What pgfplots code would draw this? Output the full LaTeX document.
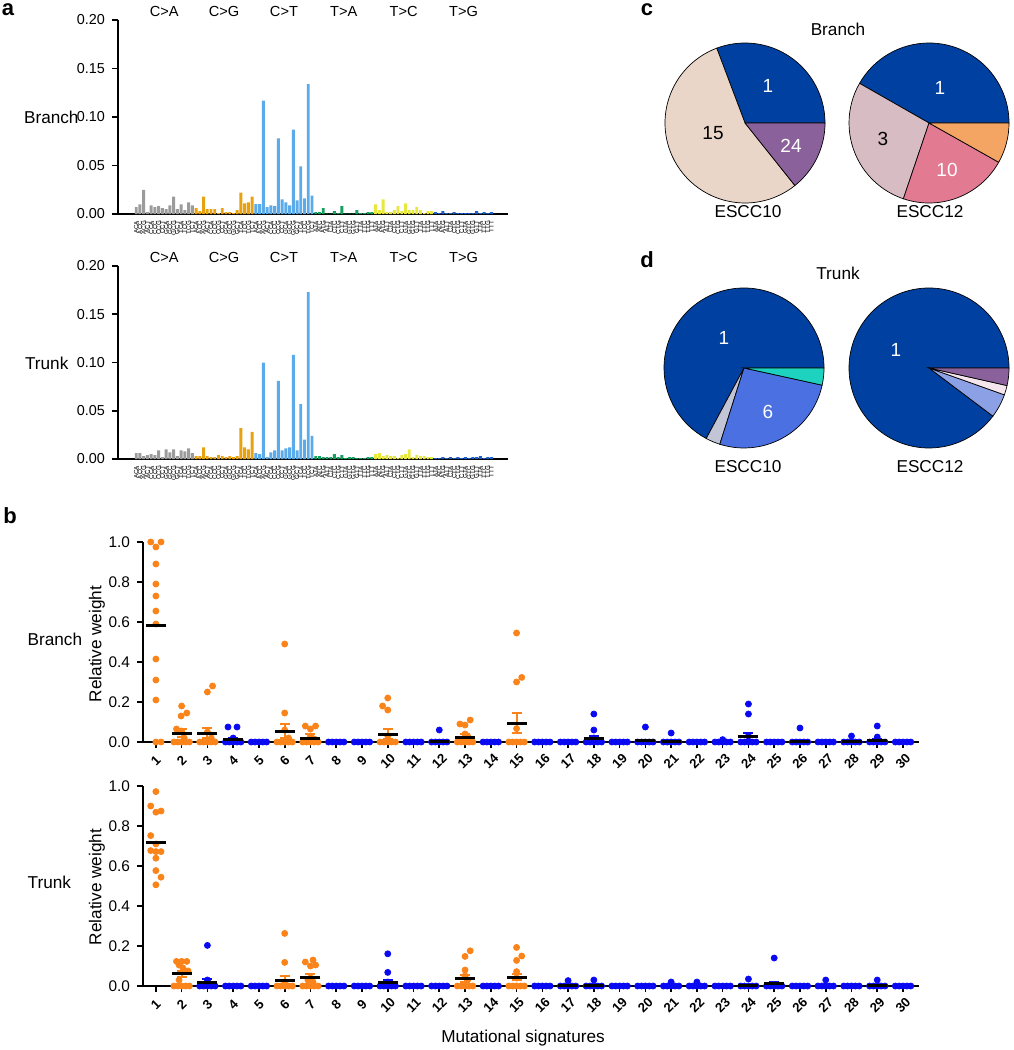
\documentclass[border=0pt]{standalone}
\usepackage{pgfplots}
\pgfplotsset{compat=1.18}
\usepackage{fontspec}
\setmainfont{Liberation Sans}
\definecolor{cgray}{HTML}{9B9B9B}
\definecolor{corange}{HTML}{E9A20F}
\definecolor{clblue}{HTML}{5BABEA}
\definecolor{cgreen}{HTML}{16A060}
\definecolor{cyellow}{HTML}{E8E83A}
\definecolor{cblue}{HTML}{1C5FC9}
\definecolor{dorange}{HTML}{FA831A}
\definecolor{dblue}{HTML}{0A0AF2}
\definecolor{pblue}{HTML}{0040A0}
\definecolor{pbeige}{HTML}{EAD5C9}
\definecolor{ppurple}{HTML}{8A619B}
\definecolor{pmauve}{HTML}{D8BCC3}
\definecolor{ppink}{HTML}{E27A92}
\definecolor{porange}{HTML}{F4A463}
\definecolor{pgrayb}{HTML}{C2C5D6}
\definecolor{pmblue}{HTML}{4A70E2}
\definecolor{pteal}{HTML}{1ED2C0}
\definecolor{plblue}{HTML}{8CA0E6}
\definecolor{pwhite}{HTML}{F5E6EE}
\newcommand\slice[6]{\filldraw[fill=#6, draw=black, line width=0.35pt] (axis cs:#1,#2) -- +(#4:#3) arc[start angle=#4, end angle=#5, radius=#3] -- cycle;}
\pgfplotsset{
 ctx/.style={xticklabels={ACA,ACC,ACG,ACT,CCA,CCC,CCG,CCT,GCA,GCC,GCG,GCT,TCA,TCC,TCG,TCT,
  ACA,ACC,ACG,ACT,CCA,CCC,CCG,CCT,GCA,GCC,GCG,GCT,TCA,TCC,TCG,TCT,
  ACA,ACC,ACG,ACT,CCA,CCC,CCG,CCT,GCA,GCC,GCG,GCT,TCA,TCC,TCG,TCT,
  ATA,ATC,ATG,ATT,CTA,CTC,CTG,CTT,GTA,GTC,GTG,GTT,TTA,TTC,TTG,TTT,
  ATA,ATC,ATG,ATT,CTA,CTC,CTG,CTT,GTA,GTC,GTG,GTT,TTA,TTC,TTG,TTT,
  ATA,ATC,ATG,ATT,CTA,CTC,CTG,CTT,GTA,GTC,GTG,GTT,TTA,TTC,TTG,TTT}},
 baraxis/.style={
  scale only axis, width=195pt, anchor=south west,
  xmin=-3.87, xmax=100.4, ymin=0, ymax=0.2,
  axis x line=bottom, axis y line=left, axis line style={-, line width=0.9pt},
  xtick={1,...,96}, ctx,
  x tick label style={rotate=90, anchor=east, font=\fontsize{3.1}{3.1}\selectfont, inner sep=0.3pt},
  x tick style={draw=none},
  ytick={0,0.05,0.1,0.15,0.2},
  y tick label style={font=\fontsize{7.2}{8}\selectfont, /pgf/number format/.cd, fixed, fixed zerofill, precision=2, assume math mode=true},
  y tick style={line width=0.8pt, black}, tick align=outside, major tick length=3pt,
  every axis plot/.append style={ybar, bar width=0.78, bar shift=0pt, draw=none},
  clip=false},
 sigaxis/.style={
  scale only axis, width=388pt, height=100pt, anchor=south west,
  xmin=0.5, xmax=30.62, ymin=0, ymax=1,
  axis x line=bottom, axis y line=left, axis line style={-, line width=0.9pt},
  xtick={1,...,30}, ytick={0,0.2,0.4,0.6,0.8,1},
  tick align=outside, major tick length=3pt, tick style={line width=0.8pt, black},
  y tick label style={font=\fontsize{7.7}{8}\selectfont, /pgf/number format/.cd, fixed, fixed zerofill, precision=1, assume math mode=true},
  x tick label style={anchor=center, yshift=-6.5pt, rotate=45, inner sep=0pt, font=\bfseries\fontsize{6.6}{7}\selectfont, /pgf/number format/assume math mode=true},
  clip=false},
 dots/.style={only marks, mark=*, mark size=1.5pt, color=#1},
 means/.style={only marks, mark=-, mark size=5pt, mark options={black, line width=1.5pt},
  error bars/.cd, y dir=both, y explicit,
  error bar style={#1, line width=1pt},
  error mark options={#1, line width=1pt, mark size=2.5pt, rotate=90}}
}
\begin{document}
\begin{tikzpicture}
\useasboundingbox (0,0) rectangle (506.5pt,-525pt);
% ---------- panel a, Branch
\begin{axis}[baraxis, at={(59pt,-107pt)}, height=97pt]
\addplot[fill=cgray] coordinates {(1,0.007)(2,0.010)(3,0.025)(4,0.002)(5,0.009)(6,0.007)(7,0.008)(8,0.006)(9,0.005)(10,0.009)(11,0.018)(12,0.005)(13,0.010)(14,0.004)(15,0.012)(16,0.009)};
\addplot[fill=corange] coordinates {(17,0.006)(18,0.003)(19,0.018)(20,0.005)(21,0.005)(22,0.005)(23,0.001)(24,0.006)(25,0.002)(26,0.002)(27,0.001)(28,0.004)(29,0.022)(30,0.011)(31,0.012)(32,0.018)};
\addplot[fill=clblue] coordinates {(33,0.0103)(34,0.0103)(35,0.117)(36,0.007)(37,0.009)(38,0.008)(39,0.078)(40,0.015)(41,0.012)(42,0.009)(43,0.087)(44,0.014)(45,0.049)(46,0.016)(47,0.134)(48,0.019)};
\addplot[fill=cgreen] coordinates {(49,0.002)(50,0.002)(51,0.006)(52,0.0005)(53,0.0005)(54,0.003)(55,0.001)(56,0.008)(57,0.0005)(58,0.0005)(59,0.0005)(60,0.004)(61,0.001)(62,0.001)(63,0.002)(64,0.002)};
\addplot[fill=cyellow] coordinates {(65,0.010)(66,0.004)(67,0.015)(68,0.002)(69,0.002)(70,0.004)(71,0.008)(72,0.003)(73,0.011)(74,0.004)(75,0.004)(76,0.007)(77,0.004)(78,0.001)(79,0.003)(80,0.003)};
\addplot[fill=cblue] coordinates {(81,0.002)(82,0.001)(83,0.003)(84,0.001)(85,0.001)(86,0.002)(87,0.001)(88,0.001)(89,0.001)(90,0.001)(91,0.001)(92,0.003)(93,0.001)(94,0.002)(95,0.001)(96,0.002)};
\node[font=\fontsize{7.3}{8}\selectfont] at (axis cs:8.5,0.2093) {C>A};
\node[font=\fontsize{7.3}{8}\selectfont] at (axis cs:24.5,0.2093) {C>G};
\node[font=\fontsize{7.3}{8}\selectfont] at (axis cs:40.5,0.2093) {C>T};
\node[font=\fontsize{7.3}{8}\selectfont] at (axis cs:56.5,0.2093) {T>A};
\node[font=\fontsize{7.3}{8}\selectfont] at (axis cs:72.5,0.2093) {T>C};
\node[font=\fontsize{7.3}{8}\selectfont] at (axis cs:88.5,0.2093) {T>G};
\end{axis}
% ---------- panel a, Trunk
\begin{axis}[baraxis, at={(59pt,-229.5pt)}, height=96.5pt]
\addplot[fill=cgray] coordinates {(1,0.006)(2,0.006)(3,0.003)(4,0.004)(5,0.005)(6,0.004)(7,0.009)(8,0.002)(9,0.010)(10,0.007)(11,0.010)(12,0.003)(13,0.009)(14,0.008)(15,0.011)(16,0.006)};
\addplot[fill=corange] coordinates {(17,0.003)(18,0.003)(19,0.012)(20,0.003)(21,0.002)(22,0.002)(23,0.004)(24,0.003)(25,0.002)(26,0.003)(27,0.002)(28,0.003)(29,0.032)(30,0.012)(31,0.010)(32,0.028)};
\addplot[fill=clblue] coordinates {(33,0.006)(34,0.005)(35,0.100)(36,0.002)(37,0.007)(38,0.009)(39,0.081)(40,0.009)(41,0.011)(42,0.012)(43,0.108)(44,0.009)(45,0.057)(46,0.020)(47,0.173)(48,0.024)};
\addplot[fill=cgreen] coordinates {(49,0.003)(50,0.003)(51,0.002)(52,0.002)(53,0.002)(54,0.005)(55,0.002)(56,0.004)(57,0.001)(58,0.002)(59,0.002)(60,0.001)(61,0.001)(62,0.001)(63,0.002)(64,0.002)};
\addplot[fill=cyellow] coordinates {(65,0.005)(66,0.006)(67,0.003)(68,0.004)(69,0.003)(70,0.003)(71,0.001)(72,0.004)(73,0.005)(74,0.010)(75,0.002)(76,0.004)(77,0.003)(78,0.003)(79,0.002)(80,0.002)};
\addplot[fill=cblue] coordinates {(81,0.001)(82,0.001)(83,0.002)(84,0.001)(85,0.002)(86,0.001)(87,0.002)(88,0.001)(89,0.002)(90,0.001)(91,0.002)(92,0.002)(93,0.003)(94,0.001)(95,0.002)(96,0.002)};
\node[font=\fontsize{7.3}{8}\selectfont] at (axis cs:8.5,0.2093) {C>A};
\node[font=\fontsize{7.3}{8}\selectfont] at (axis cs:24.5,0.2093) {C>G};
\node[font=\fontsize{7.3}{8}\selectfont] at (axis cs:40.5,0.2093) {C>T};
\node[font=\fontsize{7.3}{8}\selectfont] at (axis cs:56.5,0.2093) {T>A};
\node[font=\fontsize{7.3}{8}\selectfont] at (axis cs:72.5,0.2093) {T>C};
\node[font=\fontsize{7.3}{8}\selectfont] at (axis cs:88.5,0.2093) {T>G};
\end{axis}
% ---------- panel b, Branch
\begin{axis}[sigaxis, at={(71.5pt,-371pt)}]
\addplot[dots=dorange] coordinates {
(0.8,1.0)(1.2,1.0)(1,0.975)(1,0.89)(1,0.79)(1,0.73)(1,0.655)(1,0.59)(1,0.415)(1,0.31)(1,0.21)(1,0)(1.2,0)
(2,0.18)(2.2,0.145)(1.98,0.13)(1.8,0.065)(2,0.055)(2.1,0.02)(1.7,0)(1.85,0)(2,0)(2.15,0)(2.3,0)
(3.2,0.28)(3,0.25)(3,0.05)(3.15,0.02)(2.7,0)(2.85,0)(3,0)(3.15,0)(3.3,0)
(6,0.49)(6,0.145)(6,0.06)(6.15,0.02)(5.7,0)(5.85,0)(6,0)(6.15,0)(6.3,0)
(6.8,0.08)(7.2,0.08)(7,0.065)(7,0.03)(7.15,0.015)(6.7,0)(6.85,0)(7,0)(7.15,0)(7.3,0)
(10,0.22)(9.8,0.18)(10,0.16)(10,0.03)(9.7,0)(9.85,0)(10,0)(10.15,0)(10.3,0)
(13.2,0.11)(12.8,0.09)(13,0.085)(13,0.04)(13.1,0.03)(12.7,0)(12.85,0)(13,0)(13.15,0)(13.3,0)
(15,0.545)(15.2,0.323)(15,0.30)(15,0.067)(14.7,0)(14.85,0)(15,0)(15.15,0)(15.3,0)};
\addplot[dots=dblue] coordinates {
(3.8,0.075)(4.15,0.075)(4,0.02)(12,0.06)(18,0.14)(18,0.06)(18,0.02)(20,0.075)(21,0.045)(23,0.012)
(24,0.19)(24,0.14)(24,0.03)(26,0.07)(28,0.03)(29,0.08)(29,0.025)
(3.7,0)(3.85,0)(4,0)(4.15,0)(4.3,0) (4.7,0)(4.85,0)(5,0)(5.15,0)(5.3,0)
(7.7,0)(7.85,0)(8,0)(8.15,0)(8.3,0) (8.7,0)(8.85,0)(9,0)(9.15,0)(9.3,0)
(10.7,0)(10.85,0)(11,0)(11.15,0)(11.3,0) (11.7,0)(11.85,0)(12,0)(12.15,0)(12.3,0)
(13.7,0)(13.85,0)(14,0)(14.15,0)(14.3,0) (15.7,0)(15.85,0)(16,0)(16.15,0)(16.3,0)
(16.7,0)(16.85,0)(17,0)(17.15,0)(17.3,0) (17.7,0)(17.85,0)(18,0)(18.15,0)(18.3,0)
(18.7,0)(18.85,0)(19,0)(19.15,0)(19.3,0) (19.7,0)(19.85,0)(20,0)(20.15,0)(20.3,0)
(20.7,0)(20.85,0)(21,0)(21.15,0)(21.3,0) (21.7,0)(21.85,0)(22,0)(22.15,0)(22.3,0)
(22.7,0)(22.85,0)(23,0)(23.15,0)(23.3,0) (23.7,0)(23.85,0)(24,0)(24.15,0)(24.3,0)
(24.7,0)(24.85,0)(25,0)(25.15,0)(25.3,0) (25.7,0)(25.85,0)(26,0)(26.15,0)(26.3,0)
(26.7,0)(26.85,0)(27,0)(27.15,0)(27.3,0) (27.7,0)(27.85,0)(28,0)(28.15,0)(28.3,0)
(28.7,0)(28.85,0)(29,0)(29.15,0)(29.3,0) (29.7,0)(29.85,0)(30,0)(30.15,0)(30.3,0)};
\addplot[means=dorange] table[x=x,y=y,y error=e] {
x y e
1 0.582 0
2 0.045 0.018
3 0.045 0.027
6 0.055 0.037
7 0.020 0.020
10 0.040 0.025
13 0.025 0.015
15 0.095 0.050
};
\addplot[means=dblue] table[x=x,y=y,y error=e] {
x y e
4 0.012 0.008
12 0.005 0.005
18 0.018 0.012
20 0.006 0.006
21 0.004 0.004
24 0.028 0.017
26 0.005 0.005
28 0.003 0.003
29 0.008 0.007
};
\end{axis}
% ---------- panel b, Trunk
\begin{axis}[sigaxis, at={(71.5pt,-493pt)}]
\addplot[dots=dorange] coordinates {
(1,0.972)(0.8,0.90)(1,0.869)(1.2,0.875)(0.8,0.752)(1,0.71)(0.8,0.677)(1,0.672)(1.2,0.672)(1,0.639)(1,0.577)(1.2,0.544)(1,0.506)
(1.8,0.123)(2,0.123)(2.2,0.123)(1.9,0.105)(2.05,0.09)(2.25,0.075)(1.9,0.03)(1.7,0)(1.85,0)(2,0)(2.15,0)(2.3,0)
(6,0.263)(6,0.118)(6,0.02)(5.7,0)(5.85,0)(6,0)(6.15,0)(6.3,0)
(7.1,0.13)(6.8,0.12)(7.2,0.105)(7,0.1)(7,0.04)(6.9,0.03)(7.1,0.02)(6.7,0)(6.85,0)(7,0)(7.15,0)(7.3,0)
(13.2,0.176)(13,0.148)(13,0.08)(13,0.05)(13.1,0.03)(12.7,0)(12.85,0)(13,0)(13.15,0)(13.3,0)
(15,0.193)(15.2,0.15)(15,0.128)(15,0.072)(15,0.04)(14.7,0)(14.85,0)(15,0)(15.15,0)(15.3,0)};
\addplot[dots=dblue] coordinates {
(3,0.203)(3,0.03)(10,0.161)(10,0.068)(10,0.02)(17,0.027)(18,0.03)(21,0.02)(22,0.02)(24,0.035)(25,0.14)(27,0.03)(29,0.03)
(2.7,0)(2.85,0)(3,0)(3.15,0)(3.3,0)
(3.7,0)(3.85,0)(4,0)(4.15,0)(4.3,0) (4.7,0)(4.85,0)(5,0)(5.15,0)(5.3,0)
(7.7,0)(7.85,0)(8,0)(8.15,0)(8.3,0) (8.7,0)(8.85,0)(9,0)(9.15,0)(9.3,0)
(9.7,0)(9.85,0)(10,0)(10.15,0)(10.3,0)
(10.7,0)(10.85,0)(11,0)(11.15,0)(11.3,0) (11.7,0)(11.85,0)(12,0)(12.15,0)(12.3,0)
(13.7,0)(13.85,0)(14,0)(14.15,0)(14.3,0) (15.7,0)(15.85,0)(16,0)(16.15,0)(16.3,0)
(16.7,0)(16.85,0)(17,0)(17.15,0)(17.3,0) (17.7,0)(17.85,0)(18,0)(18.15,0)(18.3,0)
(18.7,0)(18.85,0)(19,0)(19.15,0)(19.3,0) (19.7,0)(19.85,0)(20,0)(20.15,0)(20.3,0)
(20.7,0)(20.85,0)(21,0)(21.15,0)(21.3,0) (21.7,0)(21.85,0)(22,0)(22.15,0)(22.3,0)
(22.7,0)(22.85,0)(23,0)(23.15,0)(23.3,0) (23.7,0)(23.85,0)(24,0)(24.15,0)(24.3,0)
(24.7,0)(24.85,0)(25,0)(25.15,0)(25.3,0) (25.7,0)(25.85,0)(26,0)(26.15,0)(26.3,0)
(26.7,0)(26.85,0)(27,0)(27.15,0)(27.3,0) (27.7,0)(27.85,0)(28,0)(28.15,0)(28.3,0)
(28.7,0)(28.85,0)(29,0)(29.15,0)(29.3,0) (29.7,0)(29.85,0)(30,0)(30.15,0)(30.3,0)};
\addplot[means=dorange] table[x=x,y=y,y error=e] {
x y e
1 0.720 0
2 0.061 0.015
6 0.029 0.021
7 0.042 0.016
13 0.038 0.016
15 0.045 0.017
};
\addplot[means=dblue] table[x=x,y=y,y error=e] {
x y e
3 0.018 0.016
10 0.019 0.013
17 0.002 0.002
18 0.003 0.003
24 0.003 0.003
25 0.011 0.011
29 0.002 0.002
};
\end{axis}
% ---------- pies (c, d)
\begin{axis}[at={(0pt,0pt)}, anchor=north west, hide axis, x=0.5pt, y=0.5pt,
 xmin=0, xmax=1013, ymin=-1050, ymax=0, clip=false]
\slice{745}{-123}{40pt}{0}{110.7}{pblue}
\slice{745}{-123}{40pt}{110.7}{308.6}{pbeige}
\slice{745}{-123}{40pt}{308.6}{360}{ppurple}
\slice{929}{-123}{40pt}{0}{150.3}{pblue}
\slice{929}{-123}{40pt}{150.3}{251.3}{pmauve}
\slice{929}{-123}{40pt}{251.3}{330.6}{ppink}
\slice{929}{-123}{40pt}{330.6}{360}{porange}
\slice{744}{-368}{40pt}{0}{241.8}{pblue}
\slice{744}{-368}{40pt}{241.8}{252.4}{pgrayb}
\slice{744}{-368}{40pt}{252.4}{347.6}{pmblue}
\slice{744}{-368}{40pt}{347.6}{360}{pteal}
\slice{929}{-368}{40pt}{0}{323}{pblue}
\slice{929}{-368}{40pt}{323}{340.4}{plblue}
\slice{929}{-368}{40pt}{340.4}{347.3}{pwhite}
\slice{929}{-368}{40pt}{347.3}{360}{ppurple}
\node[white, font=\fontsize{9.5}{10}\selectfont] at (axis cs:768,-86) {1};
\node[black, font=\fontsize{9.5}{10}\selectfont] at (axis cs:713,-133) {15};
\node[white, font=\fontsize{9.5}{10}\selectfont] at (axis cs:791,-146) {24};
\node[white, font=\fontsize{9.5}{10}\selectfont] at (axis cs:940,-88) {1};
\node[black, font=\fontsize{9.5}{10}\selectfont] at (axis cs:883,-139) {3};
\node[white, font=\fontsize{9.5}{10}\selectfont] at (axis cs:947,-170) {10};
\node[white, font=\fontsize{9.5}{10}\selectfont] at (axis cs:724,-338) {1};
\node[white, font=\fontsize{9.5}{10}\selectfont] at (axis cs:768,-412) {6};
\node[white, font=\fontsize{9.5}{10}\selectfont] at (axis cs:896,-350) {1};
\end{axis}
% ---------- texts
\node[font=\bfseries\fontsize{11}{12}\selectfont] at (4pt,-5pt) {a};
\node[font=\bfseries\fontsize{11}{12}\selectfont] at (5pt,-258pt) {b};
\node[font=\bfseries\fontsize{11}{12}\selectfont] at (323.5pt,-5pt) {c};
\node[font=\bfseries\fontsize{11}{12}\selectfont] at (323.5pt,-130pt) {d};
\node[anchor=west, font=\fontsize{8.6}{9}\selectfont] at (8.5pt,-58.5pt) {Branch};
\node[anchor=west, font=\fontsize{8.6}{9}\selectfont] at (9pt,-181.5pt) {Trunk};
\node[anchor=west, font=\fontsize{8.6}{9}\selectfont] at (10.3pt,-319.5pt) {Branch};
\node[anchor=west, font=\fontsize{8.6}{9}\selectfont] at (10.3pt,-441pt) {Trunk};
\node[rotate=90, font=\fontsize{8.6}{9}\selectfont] at (48.5pt,-322pt) {Relative weight};
\node[rotate=90, font=\fontsize{8.6}{9}\selectfont] at (48.5pt,-443.5pt) {Relative weight};
\node[font=\fontsize{8.6}{9}\selectfont] at (261.5pt,-519pt) {Mutational signatures};
\node[font=\fontsize{8.6}{9}\selectfont] at (419pt,-14.5pt) {Branch};
\node[font=\fontsize{8.6}{9}\selectfont] at (419pt,-136.5pt) {Trunk};
\node[font=\fontsize{8.6}{9}\selectfont] at (374pt,-106pt) {ESCC10};
\node[font=\fontsize{8.6}{9}\selectfont] at (465pt,-106pt) {ESCC12};
\node[font=\fontsize{8.6}{9}\selectfont] at (374pt,-233.5pt) {ESCC10};
\node[font=\fontsize{8.6}{9}\selectfont] at (465pt,-233.5pt) {ESCC12};
\end{tikzpicture}
\end{document}
